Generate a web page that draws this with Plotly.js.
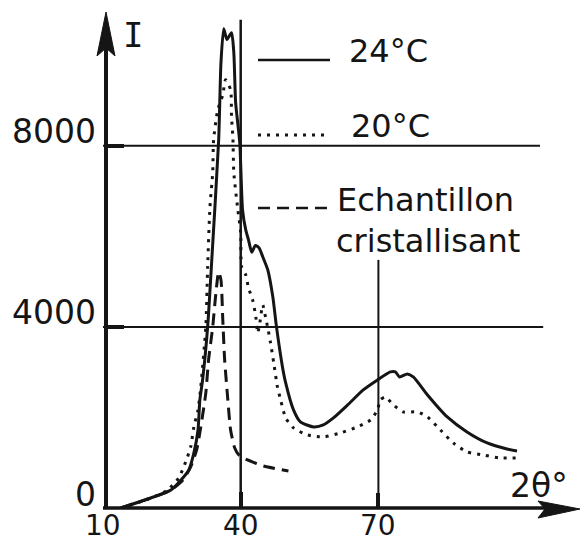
<!DOCTYPE html>
<html>
<head>
<meta charset="utf-8">
<script src="https://cdn.plot.ly/plotly-3.0.1.min.js"></script>
<style>html,body{margin:0;padding:0;background:#fff;}#chart{width:580px;height:542px;}</style>
</head>
<body>
<div id="chart"></div>
<script>
// ---- data ----
var x24 = [13.9,20.4,24.8,27.0,28.7,29.8,30.7,31.1,31.7,32.8,33.7,35.2,35.7,36.3,37.0,38.0,38.5,38.9,39.8,40.4,41.1,41.7,42.4,43.2,44.0,44.8,45.9,47.0,47.8,49.1,49.8,51.5,53.0,55.9,58.0,60.2,63.3,66.7,69.8,72.6,73.7,74.6,76.3,77.6,80.7,85.0,89.3,93.7,98.0,100.2];
var y24 = [0,221,398,619,840,1216,1724,2387,2829,4000,5481,8133,9835,10586,10350,10498,10056,8951,8067,6586,6144,5923,5650,5800,5746,5550,5260,4663,4000,3116,2763,2166,1901,1790,1834,1989,2276,2608,2829,3006,3006,2895,2961,2895,2497,2011,1680,1437,1304,1260];

var x20 = [13.9,20.4,24.1,26.5,28.0,29.1,29.8,30.7,31.3,32.4,32.8,33.3,33.9,34.1,35.0,36.1,36.7,37.8,38.0,38.3,38.5,39.3,40.0,40.2,41.1,41.7,42.6,43.3,43.7,44.1,44.8,45.4,45.9,46.5,47.2,48.0,48.7,49.8,51.5,54.6,58.0,61.7,65.4,68.3,69.8,70.4,71.5,73.3,75.4,78.5,80.7,83.5,86.3,89.3,92.8,96.5,100.2];
var y20 = [0,221,398,663,1017,1348,1790,2166,2674,4000,5326,6652,7404,8133,8796,9127,9459,9238,8641,8177,7404,6652,6078,5326,5149,4862,4597,4221,3868,4044,4486,4221,3978,3647,3205,2674,2387,1989,1768,1613,1569,1658,1790,1945,2166,2387,2453,2276,2122,2122,2011,1724,1437,1238,1171,1105,1105];

var xCr = [13.9,20.4,24.8,27.4,29.1,30.4,31.3,32.4,33.0,33.9,34.6,35.2,35.7,36.1,36.5,37.2,37.8,38.7,39.6,41.5,45.0,50.4];
var yCr = [0,221,398,619,906,1282,1790,2542,3271,4000,4752,5216,5039,4155,3271,2387,1724,1326,1171,1061,928,818];

var seriesNames = ["24°C", "20°C", "Echantillon\ncristallisant"];
var yTickVals = [0, 4000, 8000];
var yTickText = ["0", "4000", "8000"];
var xTickVals = [10, 40, 70];
var xTickText = ["10", "40", "70"];
var yTitle = "I";
var xTitle = "2θ°";

// ---- layout helpers (pixel -> paper) ----
var L = 103, R = 18, T = 10, B = 34, WID = 580, HGT = 542;
var PW = WID - L - R, PH = HGT - T - B;
function px(p){ return (p - L) / PW; }
function py(p){ return (HGT - B - p) / PH; }
var ink = "#151515";
var FONT = "DejaVu Sans";

var traces = [
  {x: x24, y: y24, mode: "lines", line: {color: ink, width: 3, shape: "spline", smoothing: 0.6}, hoverinfo: "skip"},
  {x: x20, y: y20, mode: "lines", line: {color: ink, width: 3, dash: "3px,6px", shape: "spline", smoothing: 0.6}, hoverinfo: "skip"},
  {x: xCr, y: yCr, mode: "lines", line: {color: ink, width: 3, dash: "12px,7px", shape: "spline", smoothing: 0.6}, hoverinfo: "skip"}
];

var shapes = [];
function seg(x0,y0,x1,y1,w,dash){
  shapes.push({type:"line", xref:"paper", yref:"paper", x0:px(x0), y0:py(y0), x1:px(x1), y1:py(y1), line:{color:ink, width:w, dash:dash||"solid"}});
}
// grid lines (data coordinates)
shapes.push({type:"line", xref:"x", yref:"y", x0:10, x1:105.2, y0:8000, y1:8000, line:{color:ink, width:2}});
shapes.push({type:"line", xref:"x", yref:"y", x0:10, x1:105.9, y0:4000, y1:4000, line:{color:ink, width:2}});
shapes.push({type:"line", xref:"x", yref:"y", x0:40, x1:40, y0:0, y1:10785, line:{color:ink, width:2.5}});
shapes.push({type:"line", xref:"x", yref:"y", x0:70, x1:70, y0:0, y1:5481, line:{color:ink, width:2}});
// axes
seg(106, 509, 106, 40, 4);
seg(103, 508, 545, 508, 3.5);
shapes.push({type:"path", xref:"paper", yref:"paper", fillcolor:ink, line:{color:ink, width:1},
  path:"M"+px(106)+","+py(12)+" L"+px(97)+","+py(56)+" L"+px(106)+","+py(48)+" L"+px(115)+","+py(56)+" Z"});
shapes.push({type:"path", xref:"paper", yref:"paper", fillcolor:ink, line:{color:ink, width:1},
  path:"M"+px(580)+","+py(509)+" L"+px(538)+","+py(501)+" L"+px(545)+","+py(509)+" L"+px(538)+","+py(518)+" Z"});
// tick stubs
seg(106, 146, 124, 146, 4);
seg(106, 327, 124, 327, 4);
seg(241, 508, 241, 492, 4);
seg(378, 508, 378, 493, 4);
// legend samples
seg(258, 60, 330, 60, 2.5);
seg(258, 135, 330, 135, 3, "3px,6px");
seg(258, 208, 330, 208, 2.5, "12px,7px");

var annotations = [];
function txt(t, x, y, xa, size, fam){
  annotations.push({text:t, xref:"paper", yref:"paper", x:px(x), y:py(y), xanchor:xa, yanchor:"middle",
    showarrow:false, font:{family:fam||FONT, size:size||33, color:ink}});
}
for (var i = 0; i < yTickVals.length; i++) {
  annotations.push({text:yTickText[i], xref:"paper", yref:"y", x:px(98), y:yTickVals[i], yshift:14,
    xanchor:"right", yanchor:"middle", showarrow:false, font:{family:FONT, size:33, color:ink}});
}
for (var j = 0; j < xTickVals.length; j++) {
  annotations.push({text:xTickText[j], xref:"x", yref:"paper", x:xTickVals[j], y:0, yshift:-17,
    xanchor:"center", yanchor:"middle", showarrow:false, font:{family:FONT, size:28, color:ink}});
}
txt(yTitle, 133, 35, "center", 34, "DejaVu Sans Mono");
txt(xTitle, 539, 485, "center", 33);
txt(seriesNames[0], 347, 51, "left", 32);
txt(seriesNames[1], 349, 126, "left", 32);
var lines = seriesNames[2].split("\n");
txt(lines[0], 335, 200, "left", 32);
txt(lines[1], 334, 241, "left", 32);

var layout = {
  width: WID, height: HGT,
  margin: {l: L, r: R, t: T, b: B, pad: 0},
  paper_bgcolor: "#ffffff", plot_bgcolor: "rgba(0,0,0,0)",
  showlegend: false,
  xaxis: {range: [10, 110], showgrid: false, zeroline: false, showline: false, showticklabels: false, ticks: ""},
  yaxis: {range: [0, 11000], showgrid: false, zeroline: false, showline: false, showticklabels: false, ticks: ""},
  shapes: shapes,
  annotations: annotations
};

Plotly.newPlot("chart", traces, layout, {staticPlot: true, displayModeBar: false});
</script>
</body>
</html>
